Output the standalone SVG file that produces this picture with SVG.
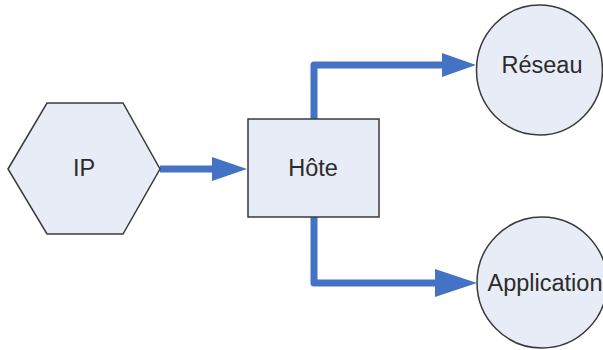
<svg xmlns="http://www.w3.org/2000/svg" width="603" height="350" viewBox="0 0 603 350">
<style>
.node{fill:#E8ECF6;stroke:#3a3a3a;stroke-width:1.5}
.lbl{font-family:"Liberation Sans",Arial,sans-serif;font-size:23.5px;fill:#2b2b2b;text-anchor:middle}
.conn{fill:none;stroke:#4472C4;stroke-width:7;stroke-linejoin:round}
.head{fill:#4472C4}
</style>
<rect width="603" height="350" fill="#ffffff"/>
<g id="connectors">
<path class="conn" d="M160,169 H214"/>
<polygon class="head" points="212,157 247,169 212,181"/>
<path class="conn" d="M314,119 V65 H444"/>
<polygon class="head" points="442,53 476,65 442,77"/>
<path class="conn" d="M314,217 V283 H437"/>
<polygon class="head" points="435,269 477,283 435,297"/>
</g>
<g id="ip">
<polygon class="node" points="8,169 47,103 123,103 160,169 123,234 47,234"/>
<text class="lbl" x="84" y="176">IP</text>
</g>
<g id="hote">
<rect class="node" x="248" y="119" width="131" height="98"/>
<text class="lbl" x="313" y="176">Hôte</text>
</g>
<g id="reseau">
<ellipse class="node" cx="539.5" cy="70" rx="63" ry="65"/>
<text class="lbl" x="542" y="73">Réseau</text>
</g>
<g id="application">
<ellipse class="node" cx="542" cy="282.5" rx="65" ry="65.5"/>
<text class="lbl" x="545" y="291">Application</text>
</g>
</svg>
